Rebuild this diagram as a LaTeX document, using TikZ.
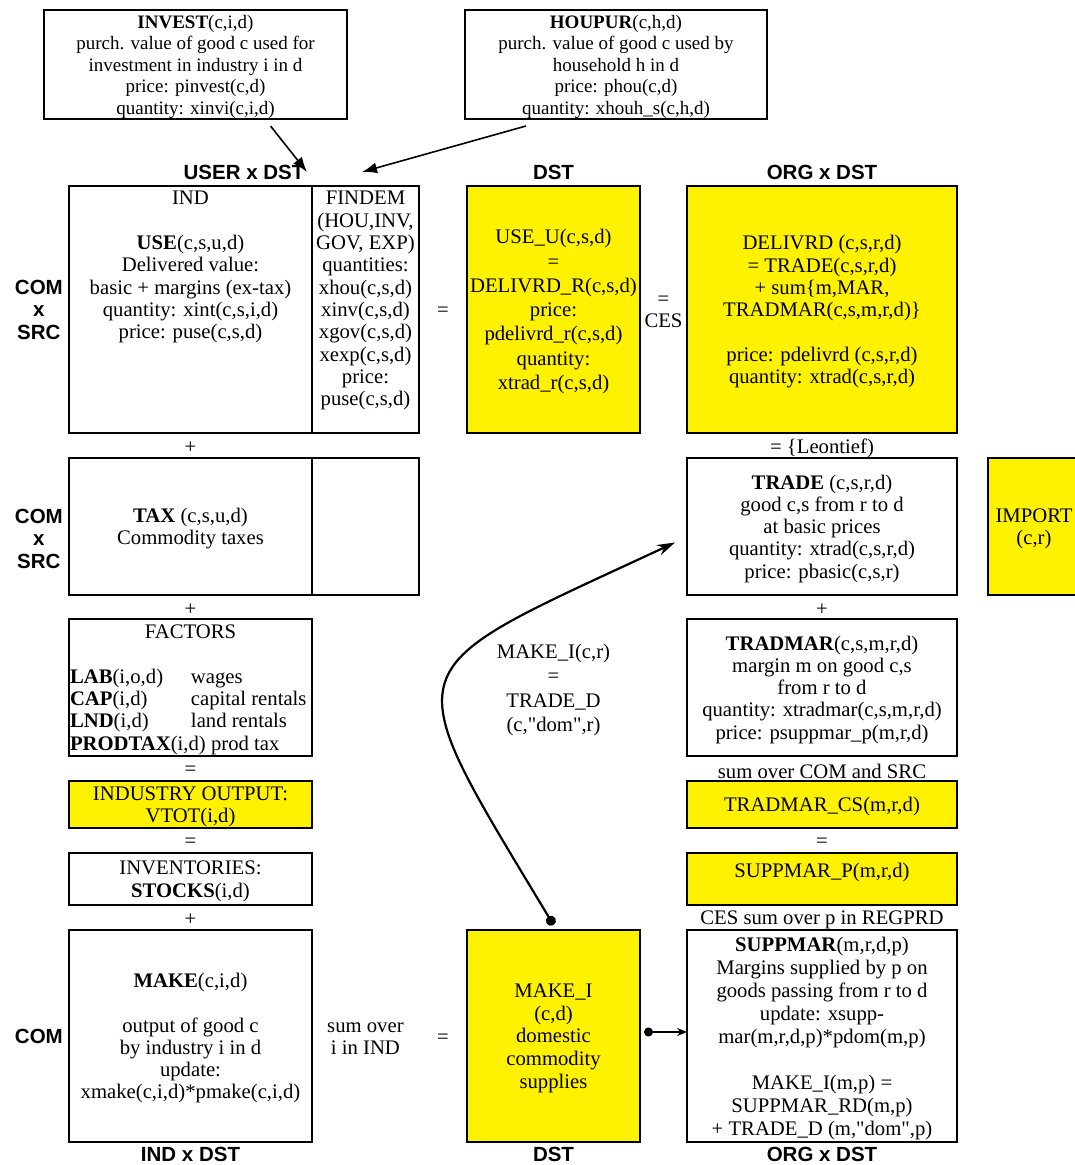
\documentclass[tikz,border=0pt]{standalone}
\usepackage{fontspec}
\setmainfont{Liberation Serif}
\newfontfamily\hdrfam{Liberation Sans}
\usetikzlibrary{positioning}
\usetikzlibrary{arrows.meta}
\usetikzlibrary{calc}

\newcommand{\bodyfont}{\fontsize{20.7}{22.3}\selectfont}
\newcommand{\topfont}{\fontsize{19}{21.5}\selectfont}
\newcommand{\hdrfont}{\hdrfam\bfseries\fontsize{20.5}{22.5}\selectfont}
\newcommand{\topcell}[3]{\parbox[c][#2][t]{#1}{\centering\rule{0pt}{19pt}#3}}
\newcommand{\factorrow}[3]{\makebox[241pt][l]{\makebox[121pt][l]{\textbf{#1}#2}#3}}
\newcommand{\dom}{\textquotedbl dom\textquotedbl}

\begin{document}
\begin{tikzpicture}[x=1pt, y=1pt,
    box/.style={draw, line width=1.6pt, inner sep=0pt, outer sep=0pt, align=center, font=\bodyfont},
    ybox/.style={box, fill=yellow},
    cellsize/.style 2 args={minimum width=#1, minimum height=#2, text depth=0pt},
    hdr/.style={inner sep=0pt, align=center, font=\hdrfont},
    op/.style={inner sep=0pt, align=center, font=\bodyfont, yshift=-2.5pt},
    link/.style={line width=1.6pt}]
    \useasboundingbox (0,0) rectangle (1075,1165);
    \clip (0,0) rectangle (1075,1165);
    % purchaser values feeding the final demand columns
    \node[box, font=\topfont, cellsize={303pt}{109pt}] (invest) at (195.5,1100.5) {\textbf{INVEST}(c,i,d)\\purch. value of good c used for\\investment in industry i in d\\price: pinvest(c,d)\\quantity: xinvi(c,i,d)};
    \node[box, font=\topfont, cellsize={302pt}{109pt}] (houpur) at (616,1100.5) {\textbf{HOUPUR}(c,h,d)\\purch. value of good c used by\\household h in d\\price: phou(c,d)\\quantity: xhouh\_s(c,h,d)};
    % first row
    \node[box, anchor=north west] (use) at (69,979) {\topcell{243pt}{247pt}{IND\\[22.3pt]\textbf{USE}(c,s,u,d)\\Delivered value:\\basic + margins (ex-tax)\\quantity: xint(c,s,i,d)\\price: puse(c,s,d)}};
    \node[box, right = 0pt of use] (findem) {\topcell{107pt}{247pt}{FINDEM\\(HOU,INV,\\GOV, EXP)\\quantities:\\xhou(c,s,d)\\xinv(c,s,d)\\xgov(c,s,d)\\xexp(c,s,d)\\price:\\puse(c,s,d)}};
    \node[ybox, font=\fontsize{20.7}{24.3}\selectfont, cellsize={173pt}{247pt}, right = 48pt of findem] (useu) {USE\_U(c,s,d)\\=\\DELIVRD\_R(c,s,d)\\price:\\pdelivrd\_r(c,s,d)\\quantity:\\xtrad\_r(c,s,d)};
    \node[ybox, cellsize={270pt}{247pt}, right = 47pt of useu] (delivrd) {DELIVRD (c,s,r,d)\\= TRADE(c,s,r,d)\\+ sum\{m,MAR,\\TRADMAR(c,s,m,r,d)\}\\[22.3pt]price: pdelivrd (c,s,r,d)\\quantity: xtrad(c,s,r,d)};
    % left column
    \node[box, cellsize={243pt}{137pt}, below = 25pt of use] (tax) {\textbf{TAX} (c,s,u,d)\\Commodity taxes};
    \node[box, cellsize={107pt}{137pt}, right = 0pt of tax] (taxfd) {};
    \node[box, cellsize={243pt}{137pt}, below = 24pt of tax] (factors) {FACTORS\\[22.3pt]\factorrow{LAB}{(i,o,d)}{wages}\\\factorrow{CAP}{(i,d)}{capital rentals}\\\factorrow{LND}{(i,d)}{land rentals}\\\makebox[241pt][l]{\textbf{PRODTAX}(i,d) prod tax}};
    \node[ybox, cellsize={243pt}{47pt}, below = 25pt of factors] (indout) {INDUSTRY OUTPUT:\\VTOT(i,d)};
    \node[box, cellsize={243pt}{52pt}, below = 25pt of indout] (invent) {INVENTORIES:\\\textbf{STOCKS}(i,d)};
    \node[box, cellsize={243pt}{212pt}, below = 25pt of invent] (make) {\textbf{MAKE}(c,i,d)\\[22.3pt]output of good c\\by industry i in d\\update:\\xmake(c,i,d)*pmake(c,i,d)};
    \node[ybox, font=\fontsize{20.7}{22.75}\selectfont, cellsize={173pt}{212pt}, right = 155pt of make] (makei) {MAKE\_I\\(c,d)\\domestic\\commodity\\supplies};
    % right column
    \node[box, cellsize={270pt}{137pt}, below = 25pt of delivrd] (trade) {\textbf{TRADE} (c,s,r,d)\\good c,s from r to d\\at basic prices\\quantity: xtrad(c,s,r,d)\\price: pbasic(c,s,r)};
    \node[ybox, cellsize={92pt}{137pt}, right = 31pt of trade] (import) {IMPORT\\(c,r)};
    \node[box, cellsize={270pt}{137pt}, below = 24pt of trade] (tradmar) {\textbf{TRADMAR}(c,s,m,r,d)\\margin m on good c,s\\from r to d\\quantity: xtradmar(c,s,m,r,d)\\price: psuppmar\_p(m,r,d)};
    \node[ybox, cellsize={270pt}{47pt}, below = 25pt of tradmar] (tradmarcs) {TRADMAR\_CS(m,r,d)};
    \node[ybox, minimum width=270pt, minimum height=52pt, text height=15pt, text depth=17pt, below = 25pt of tradmarcs] (suppmarp) {SUPPMAR\_P(m,r,d)};
    \node[box, font=\fontsize{20.7}{23}\selectfont, cellsize={270pt}{212pt}, below = 25pt of suppmarp] (suppmar) {\textbf{SUPPMAR}(m,r,d,p)\\Margins supplied by p on\\goods passing from r to d\\update: xsupp-\\mar(m,r,d,p)*pdom(m,p)\\[23pt]MAKE\_I(m,p) =\\SUPPMAR\_RD(m,p)\\+ TRADE\_D (m,\dom,p)};
    % headers
    \node[hdr, anchor=base] (huser) at ($(use.north west)!0.5!(findem.north east)+(0,6)$) {USER x DST};
    \node[hdr, above = 6pt of useu, anchor=base] (hdst) {DST};
    \node[hdr, above = 6pt of delivrd, anchor=base] (horg) {ORG x DST};
    \node[hdr, below = 20pt of make, anchor=base] (find) {IND x DST};
    \node[hdr, below = 20pt of makei, anchor=base] (fdst) {DST};
    \node[hdr, below = 20pt of suppmar, anchor=base] (forg) {ORG x DST};
    \node[hdr, left = 6pt of use] (comsrc1) {COM\\x\\SRC};
    \node[hdr, left = 6pt of tax, yshift=-12pt] (comsrc2) {COM\\x\\SRC};
    \node[hdr, left = 6pt of make] (com3) {COM};
    % operators between the boxes
    \node[op] (eq1) at ($(findem.east)!0.5!(useu.west)$) {=};
    \node[op] (eqces) at ($(useu.east)!0.5!(delivrd.west)$) {=\\CES};
    \node[op] (plus1) at ($(use.south)!0.5!(tax.north)$) {+};
    \node[op] (leon) at ($(delivrd.south)!0.5!(trade.north)$) {= \{Leontief)};
    \node[op] (plus2) at ($(tax.south)!0.5!(factors.north)$) {+};
    \node[op] (plus3) at ($(trade.south)!0.5!(tradmar.north)$) {+};
    \node[op] (eq2) at ($(factors.south)!0.5!(indout.north)$) {=};
    \node[op] (sumcs) at ($(tradmar.south)!0.5!(tradmarcs.north)$) {sum over COM and SRC};
    \node[op] (eq3) at ($(indout.south)!0.5!(invent.north)$) {=};
    \node[op] (eq4) at ($(tradmarcs.south)!0.5!(suppmarp.north)$) {=};
    \node[op] (plus4) at ($(invent.south)!0.5!(make.north)$) {+};
    \node[op] (cessum) at ($(suppmarp.south)!0.5!(suppmar.north)$) {CES sum over p in REGPRD};
    \node[op, right = 15pt of make] (sumind) {sum over\\i in IND};
    \node[op, left = 18pt of makei] (eq5) {=};
    \node[op, font=\fontsize{20.7}{24.3}\selectfont] (makeir) at (useu |- tradmar) {MAKE\_I(c,r)\\=\\TRADE\_D\\(c,\dom,r)};
    % connectors
    \coordinate (invtip) at (307,993);
    \coordinate (houtip) at (362,993);
    \draw[link, -{Latex[length=15pt,width=11pt]}] ([shift={(75pt,-7pt)}]invest.south) -- (invtip);
    \draw[link, -{Latex[length=15pt,width=11pt]}] ([shift={(-90pt,-7pt)}]houpur.south) -- (houtip);
    \draw[line width=2.2pt, {Circle[length=10pt]}-{Stealth[length=18pt,width=11pt]}] ([yshift=5pt]makei.north) to[out=121, in=205, looseness=2] ([shift={(-12pt,-16pt)}]trade.west);
    \draw[line width=2.2pt, {Circle[length=9pt]}-{Stealth[length=10pt,width=8pt]}] ([shift={(4pt,4pt)}]makei.east) -- ([yshift=4pt]suppmar.west);
\end{tikzpicture}
\end{document}
